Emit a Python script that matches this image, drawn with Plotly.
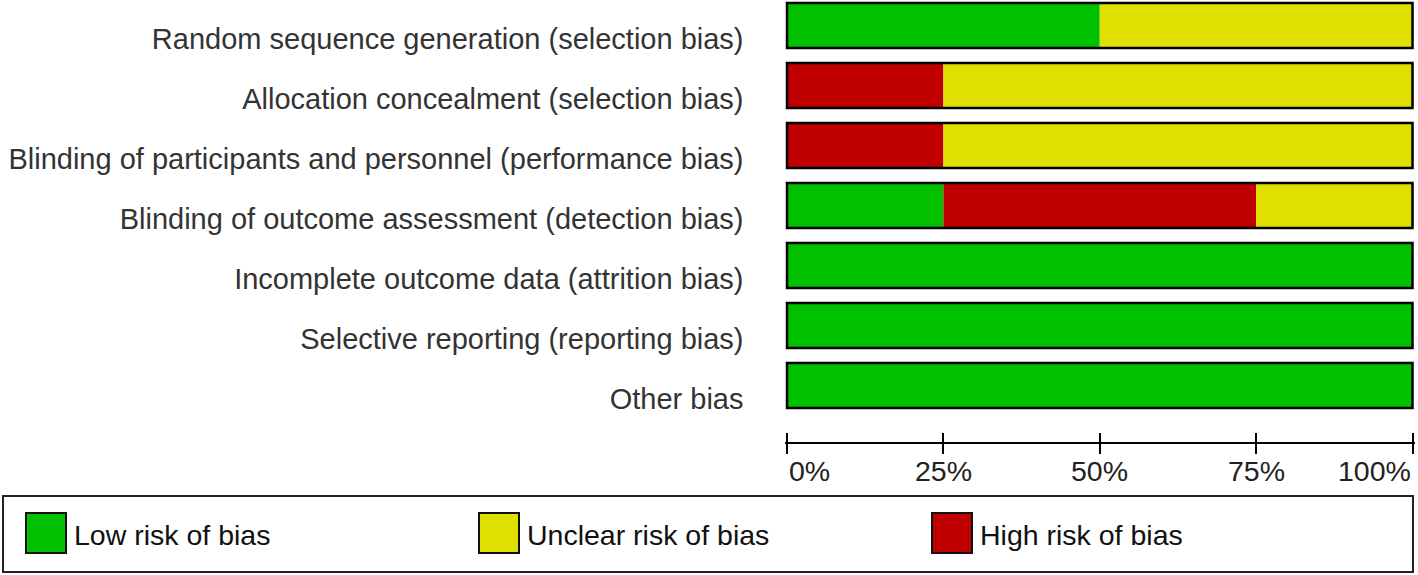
import numpy as np
import plotly.graph_objects as go

# ---- data ----
domains = [
    "Random sequence generation (selection bias)",
    "Allocation concealment (selection bias)",
    "Blinding of participants and personnel (performance bias)",
    "Blinding of outcome assessment (detection bias)",
    "Incomplete outcome data (attrition bias)",
    "Selective reporting (reporting bias)",
    "Other bias",
]
# stacking order left -> right per row is Low, High, Unclear
low_risk = [50, 0, 0, 25, 100, 100, 100]
high_risk = [0, 25, 25, 50, 0, 0, 0]
unclear_risk = [50, 75, 75, 25, 0, 0, 0]

series_names = ["Low risk of bias", "Unclear risk of bias", "High risk of bias"]
series_colors = ["#00C000", "#E0E000", "#C00000"]

tick_values = [0, 25, 50, 75, 100]
tick_labels = ["0%", "25%", "50%", "75%", "100%"]

# ---- figure ----
W, H = 1418, 575
FONT = "Arial, Liberation Sans, sans-serif"
FS = 28.5
LABEL_FS = 29
BAR_W = 0.75

low = np.array(low_risk, dtype=float)
high = np.array(high_risk, dtype=float)
unc = np.array(unclear_risk, dtype=float)
total = low + high + unc

fig = go.Figure()
stack = [
    (low, np.zeros_like(low), series_colors[0], series_names[0]),
    (high, low, series_colors[2], series_names[2]),
    (unc, low + high, series_colors[1], series_names[1]),
]
for vals, base, col, name in stack:
    fig.add_trace(go.Bar(
        y=domains, x=vals, base=base, orientation="h", name=name,
        marker=dict(color=col, line=dict(width=0)), width=BAR_W,
        hoverinfo="name+x",
    ))
# outline around each full bar
fig.add_trace(go.Bar(
    y=domains, x=total, base=np.zeros_like(total), orientation="h",
    marker=dict(color="rgba(0,0,0,0)", line=dict(color="#000000", width=2.5)),
    width=BAR_W, hoverinfo="skip", showlegend=False,
))

x_left_px, x_right_px = 784.5, 1415.0
plot_h_px = 420
y_dom = [(H - plot_h_px) / H, 1.0]
axis_y_px = 443
axis_pos = (H - axis_y_px) / H

fig.update_layout(
    width=W, height=H,
    margin=dict(l=0, r=0, t=0, b=0),
    paper_bgcolor="white", plot_bgcolor="white",
    barmode="overlay", showlegend=False,
    font=dict(family=FONT, size=FS, color="#333333"),
    xaxis=dict(
        domain=[x_left_px / W, x_right_px / W], range=[-0.4, 100.4],
        anchor="free", position=axis_pos,
        showgrid=False, zeroline=False,
        showline=True, linecolor="#000000", linewidth=2,
        tickmode="array", tickvals=tick_values, ticktext=[""] * len(tick_values),
        ticks="outside", ticklen=10, tickwidth=2, tickcolor="#000000",
    ),
    xaxis2=dict(
        overlaying="x", matches="x", domain=[x_left_px / W, x_right_px / W],
        anchor="free", position=axis_pos,
        showgrid=False, zeroline=False, showline=False,
        tickmode="array", tickvals=tick_values, ticktext=[""] * len(tick_values),
        ticks="inside", ticklen=10, tickwidth=2, tickcolor="#000000",
    ),
    yaxis=dict(
        domain=y_dom, type="category", categoryorder="array", categoryarray=domains,
        range=[len(domains) - 1 + 0.575, -0.425],
        showgrid=False, zeroline=False, showline=False, ticks="",
        ticklabelstandoff=40, ticklabelshift=-13,
        tickfont=dict(family=FONT, size=LABEL_FS, color="#333333"),
    ),
)
# dummy trace so xaxis2 is drawn
fig.add_trace(go.Scatter(x=[tick_values[0]], y=[domains[0]], xaxis="x2", mode="markers",
                         marker=dict(opacity=0), hoverinfo="skip", showlegend=False))

# tick labels (end labels aligned inward)
label_y = (H - 471) / H
for i, (v, t) in enumerate(zip(tick_values, tick_labels)):
    anchor = "left" if i == 0 else ("right" if i == len(tick_values) - 1 else "center")
    fig.add_annotation(x=v, xref="x", y=label_y, yref="paper", text=t, showarrow=False,
                       xanchor=anchor, yanchor="middle",
                       font=dict(family=FONT, size=FS, color="#222222"))

# custom legend
fig.add_shape(type="rect", xref="paper", yref="paper",
              x0=3 / W, x1=1413 / W, y0=(H - 572) / H, y1=(H - 496) / H,
              line=dict(color="#222222", width=2), fillcolor="rgba(0,0,0,0)")
leg_x = [26, 479, 932]
sq = 40
sq_top, sq_bot = 513, 553
for lx, name, col in zip(leg_x, series_names, series_colors):
    fig.add_shape(type="rect", xref="paper", yref="paper",
                  x0=lx / W, x1=(lx + sq) / W, y0=(H - sq_bot) / H, y1=(H - sq_top) / H,
                  line=dict(color="#111111", width=2), fillcolor=col)
    fig.add_annotation(x=(lx + sq + 6) / W, xref="paper", y=(H - 535) / H, yref="paper",
                       text=name, showarrow=False, xanchor="left", yanchor="middle",
                       font=dict(family=FONT, size=FS, color="#111111"))

fig.write_html("out.html", config={"displayModeBar": False},
               post_script="document.body.style.margin='0';")
